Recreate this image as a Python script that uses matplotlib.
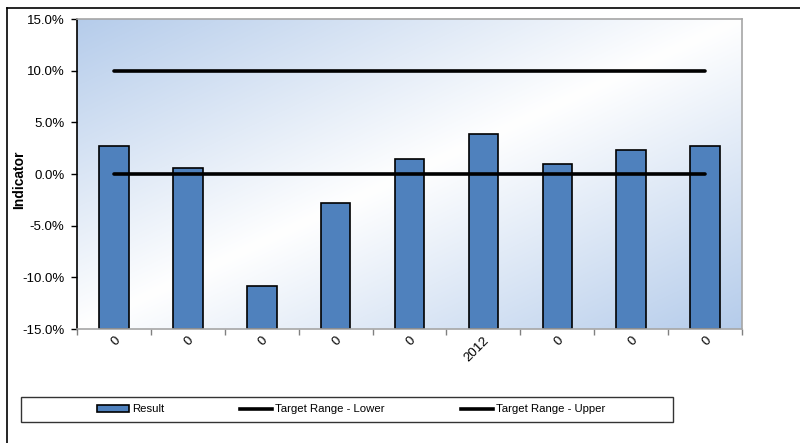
import numpy as np
import matplotlib.pyplot as plt
from matplotlib.lines import Line2D
from matplotlib.patches import Rectangle, Patch
from matplotlib.ticker import FuncFormatter, FixedLocator

plt.rcParams['font.family'] = ['Liberation Sans', 'DejaVu Sans']

# Results per period and the target band
categories = ['0', '0', '0', '0', '0', '2012', '0', '0', '0']
result = [2.7, 0.6, -10.8, -2.8, 1.5, 3.9, 1.0, 2.3, 2.7]
target_lower = [0.0] * 9
target_upper = [10.0] * 9

y_min, y_max = -15, 15

fig = plt.figure(figsize=(8, 4.43), dpi=100)
ax = fig.add_axes([0.09625, 0.2573, 0.83125, 0.6998])

x = np.arange(len(categories))

# Diagonal blue-white-blue fill behind the plot area
u, v = np.meshgrid(np.linspace(0, 1, 300), np.linspace(1, 0, 200))
t = np.abs((u + (1 - v)) - 1.0)
blue = np.array([0.71, 0.80, 0.92])
grad = 1 - (1 - blue) * t[..., None]
ax.imshow(grad, extent=[0, 1, 0, 1], transform=ax.transAxes, aspect='auto',
          zorder=0, interpolation='bilinear')

# bars rise from the bottom of the axis (category axis crosses at the minimum)
heights = [r - y_min for r in result]
ax.bar(x, heights, bottom=y_min, width=0.4, color='#4f81bd', edgecolor='black',
       linewidth=1.2, zorder=2, label='Result')
ax.plot(x, target_lower, color='black', lw=2.6, zorder=3,
        label='Target Range - Lower', solid_capstyle='round')
ax.plot(x, target_upper, color='black', lw=2.6, zorder=3,
        label='Target Range - Upper', solid_capstyle='round')

ax.set_xlim(-0.5, len(categories) - 0.5)
ax.set_ylim(y_min, y_max)
ax.set_yticks(np.arange(y_min, y_max + 0.1, 5))
ax.yaxis.set_major_formatter(FuncFormatter(lambda val, pos: f'{val:.1f}%'))
ax.tick_params(axis='y', direction='out', length=4, width=1, colors='black',
               labelsize=9.5, pad=5)

# ticks on category boundaries, labels at centres
ax.xaxis.set_major_locator(FixedLocator(np.arange(-0.5, len(categories), 1)))
ax.set_xticklabels([])
ax.xaxis.set_minor_locator(FixedLocator(x))
ax.set_xticklabels(categories, minor=True, rotation=45, ha='right', va='top',
                   rotation_mode='anchor', fontsize=9.5)
ax.tick_params(axis='x', which='major', direction='out', length=4, width=1,
               color='#808080')
ax.tick_params(axis='x', which='minor', length=0, pad=4)

for side in ['top', 'right', 'bottom']:
    ax.spines[side].set_color('#a6a6a6')
    ax.spines[side].set_linewidth(1.2)
ax.spines['left'].set_color('black')
ax.spines['left'].set_linewidth(1.2)

ax.set_ylabel('Indicator', fontsize=10, fontweight='bold')
ax.yaxis.set_label_coords(-0.076, 0.48)

# legend box and entries
fig.add_artist(Rectangle((21 / 800, 1 - 422 / 443), 652 / 800, 25 / 443,
                         transform=fig.transFigure, facecolor='white',
                         edgecolor='#333333', linewidth=1.0))
handles = [Patch(facecolor='#4f81bd', edgecolor='black', linewidth=1.2),
           Line2D([], [], color='black', lw=2.6),
           Line2D([], [], color='black', lw=2.6)]
labels = ['Result', 'Target Range - Lower', 'Target Range - Upper']
fig.legend(handles, labels, loc='center left', ncol=3, frameon=False,
           bbox_to_anchor=(97 / 800, 1 - 409.5 / 443), fontsize=8.2,
           handlelength=2.8, handleheight=0.55, handletextpad=0.25,
           columnspacing=6.7, borderaxespad=0, borderpad=0)

# outer chart border
fig.add_artist(Line2D([7 / 800, 7 / 800], [0, 1 - 8 / 443],
                      transform=fig.transFigure, color='black', lw=1.2))
fig.add_artist(Line2D([7 / 800, 1], [1 - 8 / 443, 1 - 8 / 443],
                      transform=fig.transFigure, color='black', lw=1.2))

fig.savefig('out.png', dpi=100)
